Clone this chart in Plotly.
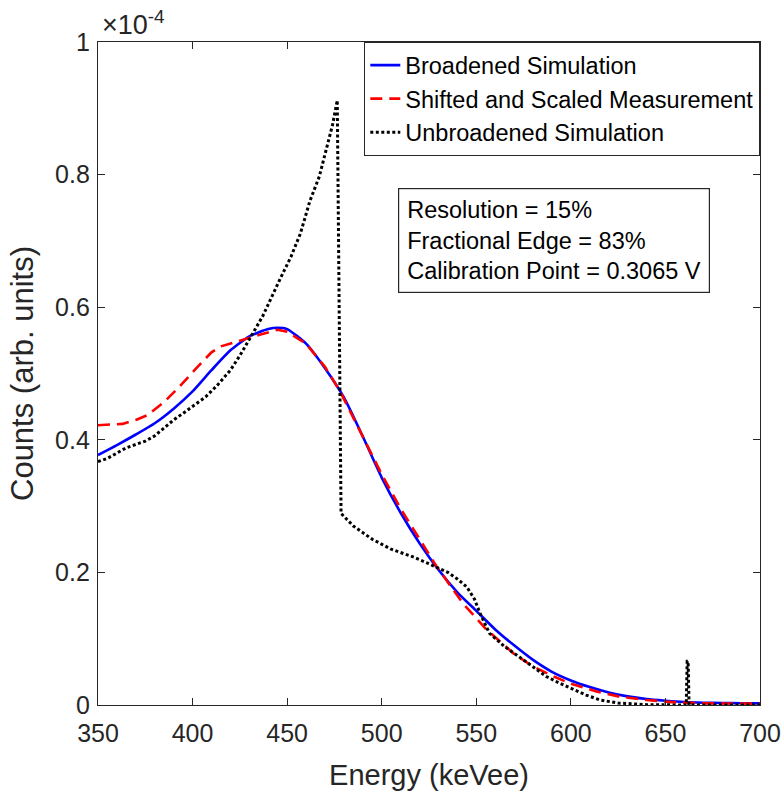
import plotly.graph_objects as go

# ---- data (counts in units of 1e-4) ----
broad_x = [350, 360, 370, 380, 390, 400, 410, 420, 430, 440, 445, 450, 460, 470, 480,
           490, 500, 510, 520, 530, 540, 550, 560, 570, 580, 590, 600, 610, 620, 630,
           640, 650, 660, 670, 680, 690, 700]
broad_y = [0.377, 0.392, 0.408, 0.425, 0.447, 0.473, 0.505, 0.535, 0.556, 0.567, 0.569,
           0.567, 0.545, 0.508, 0.464, 0.405, 0.343, 0.290, 0.244, 0.204, 0.170, 0.142,
           0.114, 0.090, 0.068, 0.050, 0.037, 0.027, 0.019, 0.013, 0.009, 0.0065,
           0.0045, 0.0035, 0.003, 0.0027, 0.0025]

meas_x = [350, 355, 363, 370, 376, 385, 393, 402, 410, 415, 425, 435, 445, 450, 460,
          470, 478, 490, 500, 510, 517, 529, 543, 555, 570, 580, 591, 600, 614, 625,
          640, 655, 670, 685, 700]
meas_y = [0.422, 0.423, 0.424, 0.430, 0.437, 0.457, 0.480, 0.508, 0.532, 0.541, 0.550,
          0.558, 0.566, 0.563, 0.545, 0.510, 0.473, 0.405, 0.348, 0.296, 0.264, 0.209,
          0.153, 0.115, 0.077, 0.058, 0.043, 0.032, 0.020, 0.013, 0.0075, 0.004,
          0.0025, 0.002, 0.002]

unbr_x = [350, 355, 360, 365, 369, 375, 380, 385, 390, 395, 400, 407, 413, 420, 425,
          430, 437, 446, 452, 457, 462, 467, 472, 474, 476.5, 478.5, 485, 495, 505,
          517, 525, 530, 535, 540, 545, 549, 552, 557, 565, 573, 580, 587, 594, 601,
          608, 615.5, 625, 640, 655, 661, 661.5, 662, 662.5, 663, 700]
unbr_y = [0.367, 0.372, 0.380, 0.388, 0.392, 0.398, 0.406, 0.418, 0.430, 0.440, 0.450,
          0.465, 0.482, 0.505, 0.527, 0.552, 0.586, 0.641, 0.676, 0.711, 0.760, 0.797,
          0.850, 0.875, 0.912, 0.289, 0.270, 0.250, 0.235, 0.223, 0.213, 0.207, 0.200,
          0.190, 0.178, 0.160, 0.138, 0.108, 0.088, 0.072, 0.058, 0.043, 0.033, 0.024,
          0.015, 0.0075, 0.003, 0.0005, 0.0, 0.0, 0.066, 0.066, 0.0, 0.0, 0.0]

x_ticks = [350, 400, 450, 500, 550, 600, 650, 700]
y_ticks = [0, 0.2, 0.4, 0.6, 0.8, 1]
y_tick_labels = ["0", "0.2", "0.4", "0.6", "0.8", "1"]

info_lines = ["Resolution = 15%", "Fractional Edge = 83%", "Calibration Point = 0.3065 V"]

FONT = "Liberation Sans, Arial, Helvetica, sans-serif"
AX = "#262626"

fig = go.Figure()
fig.add_trace(go.Scatter(x=broad_x, y=broad_y, mode="lines", name="Broadened Simulation",
                         line=dict(color="#0000FF", width=2.6, shape="spline", smoothing=0.6)))
fig.add_trace(go.Scatter(x=meas_x, y=meas_y, mode="lines", name="Shifted and Scaled Measurement",
                         line=dict(color="#FF0000", width=2.6, dash="12px,7px")))
fig.add_trace(go.Scatter(x=unbr_x, y=unbr_y, mode="lines", name="Unbroadened Simulation",
                         line=dict(color="#000000", width=3, dash="3px,2.5px")))

axis_common = dict(showline=True, linecolor=AX, linewidth=1.3, mirror="ticks",
                   ticks="inside", ticklen=7, tickwidth=1.3, tickcolor=AX,
                   showgrid=False, zeroline=False, automargin=False,
                   tickfont=dict(family=FONT, size=25, color=AX))

fig.update_xaxes(range=[350, 700], tickvals=x_ticks, ticklabelstandoff=6, **axis_common,
                 title=dict(text="Energy (keVee)", font=dict(family=FONT, size=29, color=AX),
                            standoff=18))
fig.update_yaxes(range=[0, 1], tickvals=y_ticks, ticktext=y_tick_labels, ticklabelstandoff=2,
                 **axis_common,
                 title=dict(text="Counts (arb. units)", font=dict(family=FONT, size=31, color=AX),
                            standoff=12))

fig.add_annotation(xref="paper", yref="paper", x=0.0, y=1.0, xanchor="left", yanchor="bottom",
                   text="×10<sup>-4</sup>", showarrow=False,
                   font=dict(family=FONT, size=27, color=AX), xshift=2, yshift=0)

fig.add_annotation(xref="paper", yref="paper", x=0.453, y=0.78, xanchor="left", yanchor="top",
                   text="<br>".join(info_lines), align="left", showarrow=False,
                   font=dict(family=FONT, size=23.5, color="#000000"),
                   bordercolor=AX, borderwidth=1.2, borderpad=8, bgcolor="white")

fig.update_layout(
    width=784, height=795,
    margin=dict(l=98, r=24, t=42, b=90, autoexpand=False),
    paper_bgcolor="white", plot_bgcolor="white",
    font=dict(family=FONT, color=AX),
    legend=dict(x=1, y=1, xanchor="right", yanchor="top",
                bgcolor="white", bordercolor=AX, borderwidth=1.3,
                font=dict(family=FONT, size=23.5, color="#000000"),
                tracegroupgap=0, itemwidth=30),
    showlegend=True,
)

fig.write_html("out.html")
